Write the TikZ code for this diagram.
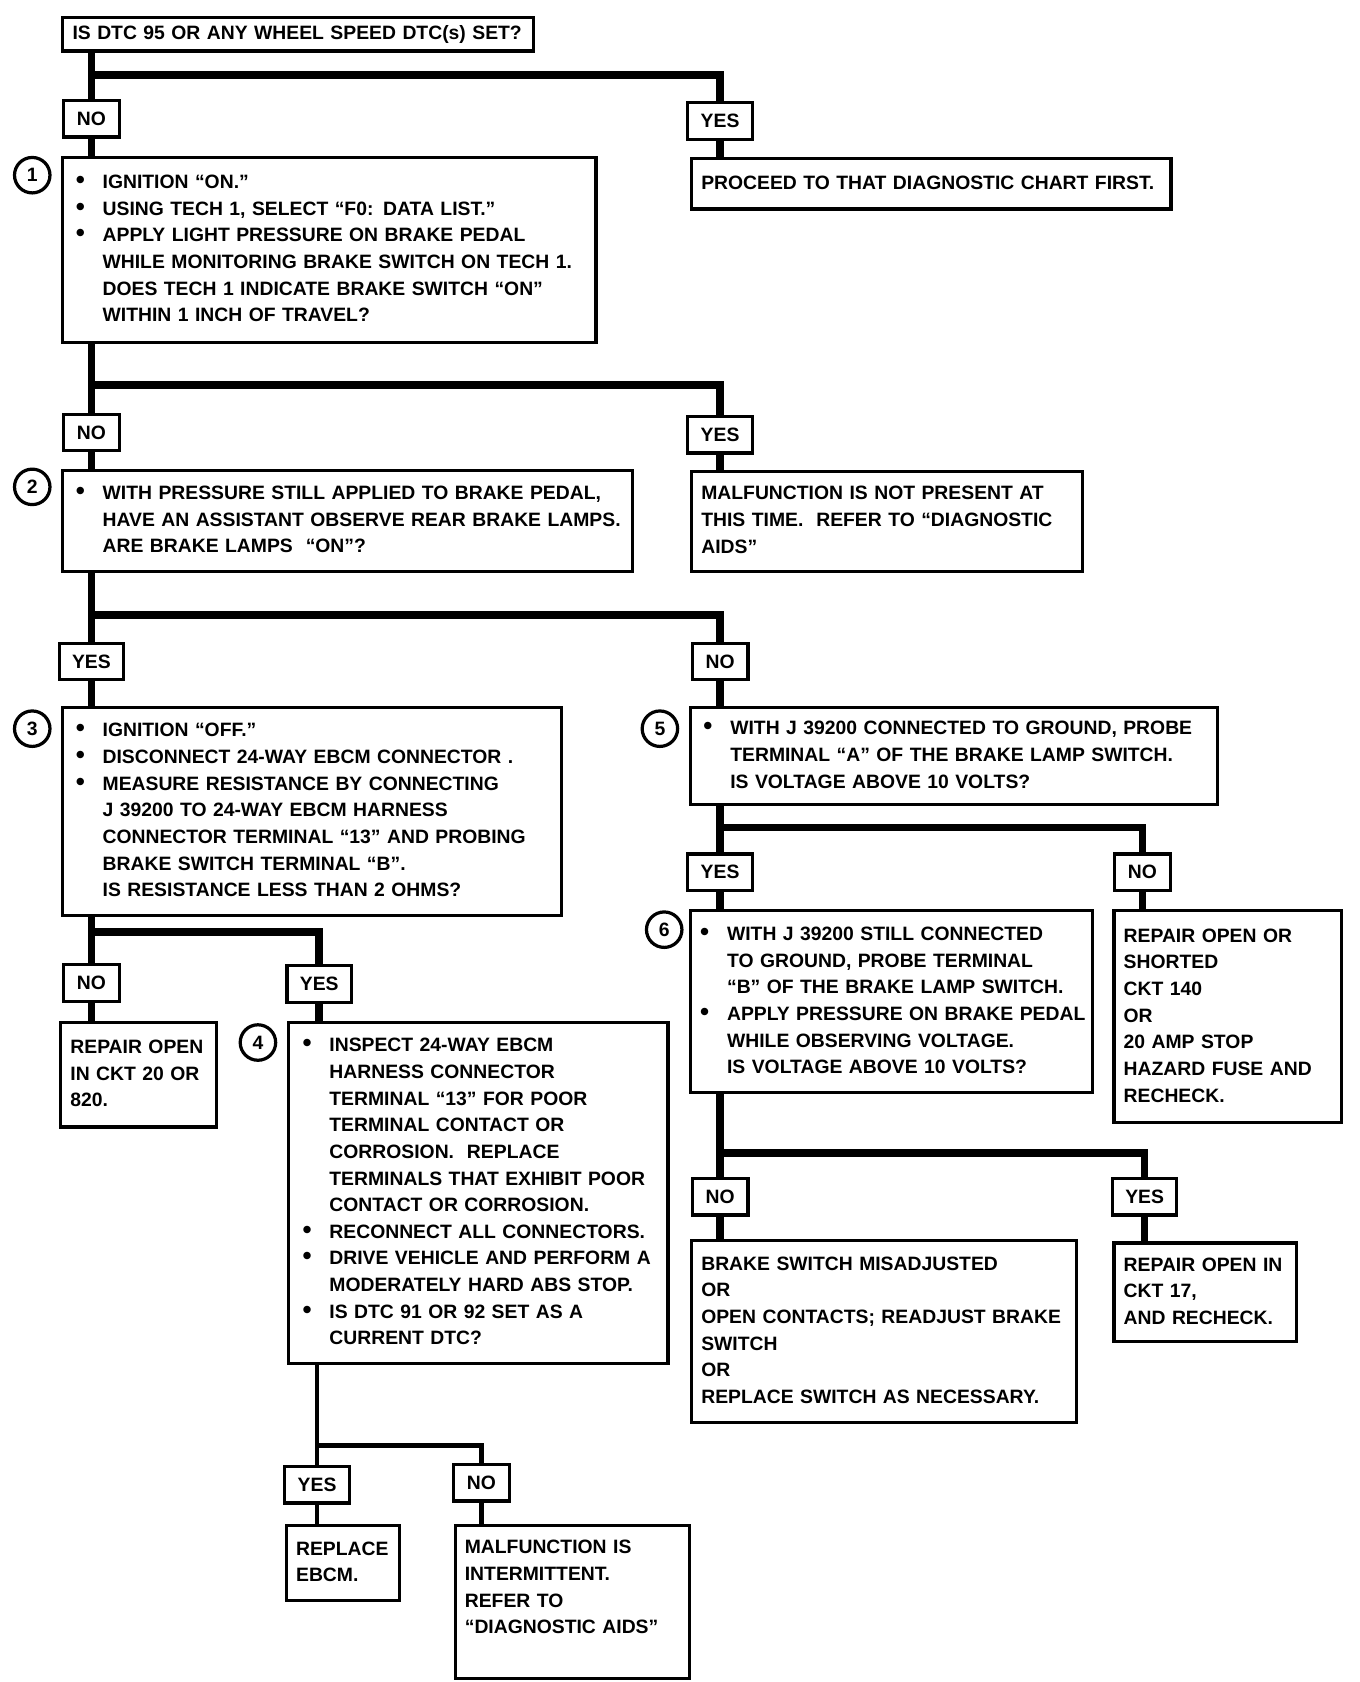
\documentclass[tikz,border=0pt]{standalone}
\usepackage{fontspec}
\setmainfont{Liberation Sans}
\usetikzlibrary{positioning, calc}

\newcommand{\chartfont}{\fontsize{18}{24.8}\selectfont\bfseries}
\newcommand{\bul}{\makebox[25pt][l]{\fontsize{24}{24}\selectfont\textbullet}}
\newcommand{\ind}{\hspace*{25pt}}
\newcommand{\rows}[1]{\begin{tabular}{@{}l@{}}#1\end{tabular}}

\tikzset{
  qbox/.style={draw, line width=3pt, anchor=north west, align=left, inner xsep=12pt, inner ysep=0pt, font=\chartfont},
  rbox/.style={qbox, inner xsep=9pt},
  abox/.style={draw, line width=3pt, anchor=north, minimum width=52pt, minimum height=34pt, inner sep=0pt, font=\chartfont},
  num/.style={draw, circle, line width=3pt, minimum size=33pt, inner sep=0pt, font=\chartfont},
  conn/.style={line width=7pt},
  connthin/.style={line width=4pt},
}

\begin{document}
\begin{tikzpicture}[x=1pt, y=-1pt]
  \useasboundingbox (0,0) rectangle (1265,1565);

  % Start
  \node[rbox, text width=420pt, minimum height=31pt] (q0) at (57,15) {\rows{IS DTC 95 OR ANY WHEEL SPEED DTC(s) SET?}};
  \node[abox] (no0) at (85,92) {NO};
  \node[abox, minimum width=60pt] (yes0) at (670,94) {YES};
  \node[rbox, text width=428pt, minimum height=47pt] (r0) at (642,146) {\rows{PROCEED TO THAT DIAGNOSTIC CHART FIRST.}};

  % Step 1
  \node[num] (n1) at (30,163) {1};
  \node[qbox, text width=472pt, minimum height=172pt] (q1) at (57,145) {\rows{%
    \bul IGNITION ``ON.''\\
    \bul USING TECH 1, SELECT ``F0: DATA LIST.''\\
    \bul APPLY LIGHT PRESSURE ON BRAKE PEDAL\\
    \ind WHILE MONITORING BRAKE SWITCH ON TECH 1.\\
    \ind DOES TECH 1 INDICATE BRAKE SWITCH ``ON''\\
    \ind WITHIN 1 INCH OF TRAVEL?}};
  \node[abox] (no1) at (85,384) {NO};
  \node[abox, minimum width=60pt] (yes1) at (670,386) {YES};
  \node[rbox, text width=346pt, minimum height=93pt] (r1) at (642,437) {\rows{%
    MALFUNCTION IS NOT PRESENT AT\\
    THIS TIME.\ \ REFER TO ``DIAGNOSTIC\\
    AIDS''}};

  % Step 2
  \node[num] (n2) at (30,453) {2};
  \node[qbox, text width=506pt, minimum height=94pt] (q2) at (57,436) {\rows{%
    \bul WITH PRESSURE STILL APPLIED TO BRAKE PEDAL,\\
    \ind HAVE AN ASSISTANT OBSERVE REAR BRAKE LAMPS.\\
    \ind ARE BRAKE LAMPS\ \ ``ON''?}};
  \node[abox, minimum width=60pt] (yes2) at (85,597) {YES};
  \node[abox] (no2) at (670,597) {NO};

  % Step 3
  \node[num] (n3) at (30,678) {3};
  \node[qbox, text width=440pt, minimum height=193pt] (q3) at (57,657) {\rows{%
    \bul IGNITION ``OFF.''\\
    \bul DISCONNECT 24-WAY EBCM CONNECTOR .\\
    \bul MEASURE RESISTANCE BY CONNECTING\\
    \ind J 39200 TO 24-WAY EBCM HARNESS\\
    \ind CONNECTOR TERMINAL ``13'' AND PROBING\\
    \ind BRAKE SWITCH TERMINAL ``B''.\\
    \ind IS RESISTANCE LESS THAN 2 OHMS?}};
  \node[abox] (no3) at (85,896) {NO};
  \node[abox, minimum width=60pt] (yes3) at (297,897) {YES};
  \node[rbox, text width=127pt, minimum height=97pt] (r2) at (55,950) {\rows{%
    REPAIR OPEN\\
    IN CKT 20 OR\\
    820.}};

  % Step 4
  \node[num] (n4) at (240,970) {4};
  \node[qbox, inner xsep=13pt, text width=327pt, minimum height=317pt] (q4) at (267,950) {\rows{%
    \bul INSPECT 24-WAY EBCM\\
    \ind HARNESS CONNECTOR\\
    \ind TERMINAL ``13'' FOR POOR\\
    \ind TERMINAL CONTACT OR\\
    \ind CORROSION.\ \ REPLACE\\
    \ind TERMINALS THAT EXHIBIT POOR\\
    \ind CONTACT OR CORROSION.\\
    \bul RECONNECT ALL CONNECTORS.\\
    \bul DRIVE VEHICLE AND PERFORM A\\
    \ind MODERATELY HARD ABS STOP.\\
    \bul IS DTC 91 OR 92 SET AS A\\
    \ind CURRENT DTC?}};
  \node[abox, minimum width=60pt] (yes4) at (295,1363) {YES};
  \node[abox] (no4) at (448,1361) {NO};
  \node[rbox, text width=87pt, minimum height=70pt] (r6) at (265,1418) {\rows{%
    REPLACE\\
    EBCM.}};
  \node[rbox, text width=200pt, minimum height=142pt] (r7) at (422,1418) {\rows{%
    MALFUNCTION IS\\
    INTERMITTENT.\\
    REFER TO\\
    ``DIAGNOSTIC AIDS''\\
    ~}};

  % Step 5
  \node[num] (n5) at (614,678) {5};
  \node[qbox, text width=466pt, minimum height=90pt] (q5) at (641,657) {\rows{%
    \bul WITH J 39200 CONNECTED TO GROUND, PROBE\\
    \ind TERMINAL ``A'' OF THE BRAKE LAMP SWITCH.\\
    \ind IS VOLTAGE ABOVE 10 VOLTS?}};
  \node[abox, minimum width=60pt] (yes5) at (670,793) {YES};
  \node[abox] (no5) at (1063,793) {NO};
  \node[rbox, text width=194pt, minimum height=197pt] (r3) at (1035,846) {\rows{%
    REPAIR OPEN OR\\
    SHORTED\\
    CKT 140\\
    OR\\
    20 AMP STOP\\
    HAZARD FUSE AND\\
    RECHECK.}};

  % Step 6
  \node[num] (n6) at (618,865) {6};
  \node[qbox, inner xsep=9pt, text width=356pt, minimum height=169pt] (q6) at (641,846) {\rows{%
    \bul WITH J 39200 STILL CONNECTED\\
    \ind TO GROUND, PROBE TERMINAL\\
    \ind ``B'' OF THE BRAKE LAMP SWITCH.\\
    \bul APPLY PRESSURE ON BRAKE PEDAL\\
    \ind WHILE OBSERVING VOLTAGE.\\
    \ind IS VOLTAGE ABOVE 10 VOLTS?}};
  \node[abox] (no6) at (670,1095) {NO};
  \node[abox, minimum width=60pt] (yes6) at (1065,1095) {YES};
  \node[rbox, text width=340pt, minimum height=169pt] (r4) at (642,1153) {\rows{%
    BRAKE SWITCH MISADJUSTED\\
    OR\\
    OPEN CONTACTS; READJUST BRAKE\\
    SWITCH\\
    OR\\
    REPLACE SWITCH AS NECESSARY.}};
  \node[rbox, text width=152pt, minimum height=92pt] (r5) at (1035,1155) {\rows{%
    REPAIR OPEN IN\\
    CKT 17,\\
    AND RECHECK.}};

  % Branch points
  \coordinate (j0) at (0,70);
  \coordinate (j1) at (0,358);
  \coordinate (j2) at (0,572);
  \coordinate (j3) at (0,867);
  \coordinate (j4) at (0,1345);
  \coordinate (j5) at (0,770);
  \coordinate (j6) at (0,1073);

  % Connectors
  \draw[conn] (q0.south -| no0.north) -- (no0.north);
  \draw[conn] (j0 -| no0.north) -| (yes0.north);
  \draw[conn] (no0.south) -- (no0.south |- q1.north);
  \draw[conn] (yes0.south) -- (yes0.south |- r0.north);

  \draw[conn] (q1.south -| no1.north) -- (no1.north);
  \draw[conn] (j1 -| no1.north) -| (yes1.north);
  \draw[conn] (no1.south) -- (no1.south |- q2.north);
  \draw[conn] (yes1.south) -- (yes1.south |- r1.north);

  \draw[conn] (q2.south -| yes2.north) -- (yes2.north);
  \draw[conn] (j2 -| yes2.north) -| (no2.north);
  \draw[conn] (yes2.south) -- (yes2.south |- q3.north);
  \draw[conn] (no2.south) -- (no2.south |- q5.north);

  \draw[conn] (q3.south -| no3.north) -- (no3.north);
  \draw[conn] (j3 -| no3.north) -| (yes3.north);
  \draw[conn] (no3.south) -- (no3.south |- r2.north);
  \draw[conn] (yes3.south) -- (yes3.south |- q4.north);

  \draw[connthin] (q4.south -| yes4.north) -- (yes4.north);
  \draw[connthin] (j4 -| yes4.north) -| (no4.north);
  \draw[connthin] (yes4.south) -- (yes4.south |- r6.north);
  \draw[connthin] (no4.south) -- (no4.south |- r7.north);

  \draw[conn] (q5.south -| yes5.north) -- (yes5.north);
  \draw[conn] (j5 -| yes5.north) -| (no5.north);
  \draw[conn] (yes5.south) -- (yes5.south |- q6.north);
  \draw[conn] (no5.south) -- (no5.south |- r3.north);

  \draw[conn] (q6.south -| no6.north) -- (no6.north);
  \draw[conn] (j6 -| no6.north) -| (yes6.north);
  \draw[conn] (no6.south) -- (no6.south |- r4.north);
  \draw[conn] (yes6.south) -- (yes6.south |- r5.north);
\end{tikzpicture}
\end{document}
